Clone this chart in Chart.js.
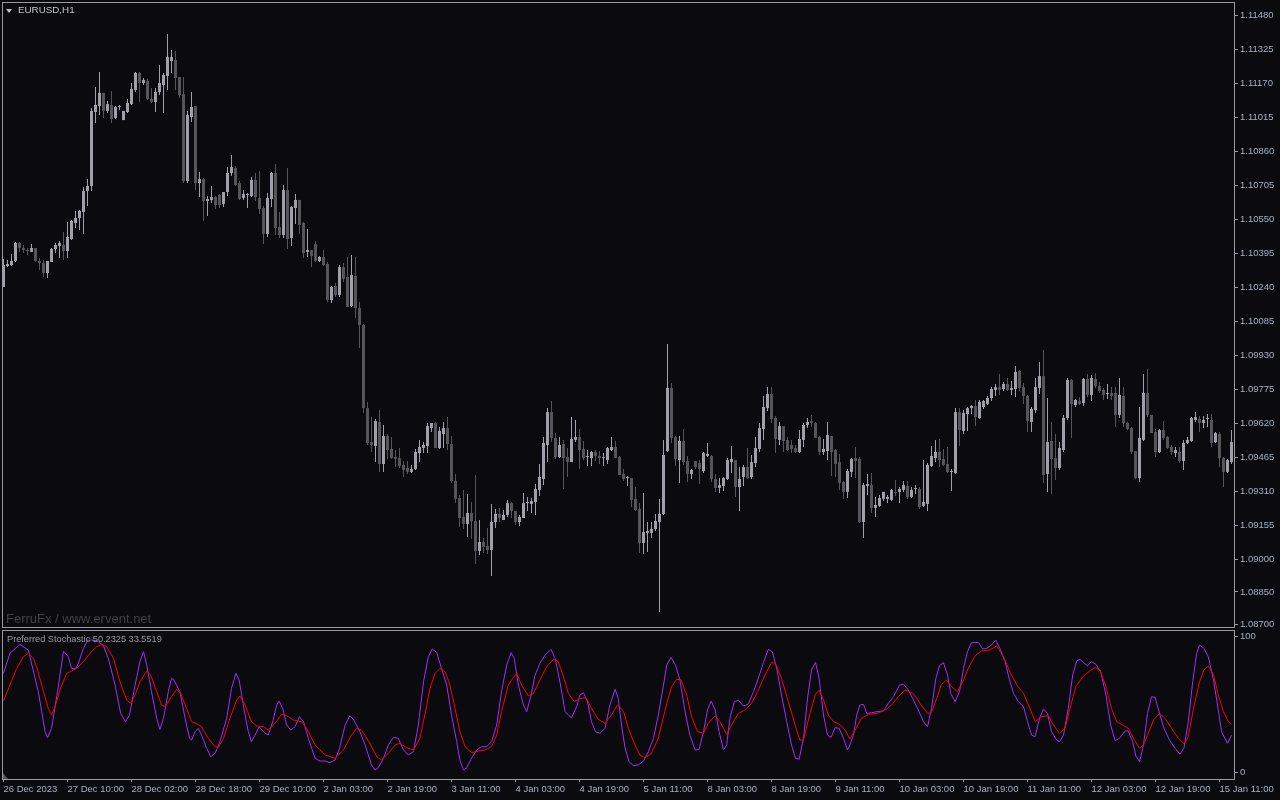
<!DOCTYPE html>
<html><head><meta charset="utf-8">
<script src="https://cdn.jsdelivr.net/npm/chart.js@4.4.1/dist/chart.umd.min.js"></script>
<style>
html,body{margin:0;padding:0;background:#0a0a0f;width:1280px;height:800px;overflow:hidden;}
#main{position:absolute;left:0;top:0;}
#sub{position:absolute;left:0;top:628px;}
.lbl{position:absolute;font-family:"Liberation Sans",Arial,sans-serif;white-space:nowrap;line-height:1;}
</style></head><body>
<canvas id="main" width="1280" height="628"></canvas>
<canvas id="sub" width="1280" height="172"></canvas>
<div style="position:absolute;left:6px;top:9px;width:0;height:0;border-left:3.5px solid transparent;border-right:3.5px solid transparent;border-top:4px solid #c0c4cc"></div>
<div class="lbl" style="left:18px;top:5px;font-size:9.8px;color:#c0c4cc">EURUSD,H1</div>
<div class="lbl" style="left:6px;top:612px;font-size:13px;color:#404048">FerruFx / www.ervent.net</div>
<div class="lbl" style="left:7px;top:635px;font-size:9.2px;color:#9c9ca4">Preferred Stochastic 50.2325 33.5519</div>
<div style="position:absolute;left:3px;top:773px;width:0;height:0;border-bottom:6px solid #55555c;border-right:5px solid transparent"></div>
<script>
const tickLabels = ["26 Dec 2023","27 Dec 10:00","28 Dec 02:00","28 Dec 18:00","29 Dec 10:00","2 Jan 03:00","2 Jan 19:00","3 Jan 11:00","4 Jan 03:00","4 Jan 19:00","5 Jan 11:00","8 Jan 03:00","8 Jan 19:00","9 Jan 11:00","10 Jan 03:00","10 Jan 19:00","11 Jan 11:00","12 Jan 03:00","12 Jan 19:00","15 Jan 11:00"];
const priceTicks = [1.08700,1.08850,1.09000,1.09155,1.09310,1.09465,1.09620,1.09775,1.09930,1.10085,1.10240,1.10395,1.10550,1.10705,1.10860,1.11015,1.11170,1.11325,1.11480];
const stochTicks = [0,100];

const open = [
1.10240,1.10336,1.10340,1.10359,1.10441,1.10418,1.10409,1.10400,1.10418,1.10359,1.10350,1.10304,1.10354,1.10413,1.10427,1.10432,
1.10404,1.10459,1.10532,1.10555,1.10582,1.10678,1.10701,1.11038,1.11065,1.11125,1.11043,1.11070,1.11011,1.11061,1.11001,1.11038,
1.11074,1.11138,1.11216,1.11170,1.11179,1.11097,1.11084,1.11129,1.11161,1.11202,1.11270,1.11275,1.11198,1.11120,1.10723,1.11015,
1.11065,1.10714,1.10732,1.10632,1.10637,1.10650,1.10660,1.10619,1.10673,1.10760,1.10783,1.10714,1.10646,1.10660,1.10655,1.10728,
1.10646,1.10600,1.10482,1.10641,1.10760,1.10514,1.10477,1.10682,1.10464,1.10600,1.10637,1.10532,1.10400,1.10409,1.10436,1.10359,
1.10377,1.10345,1.10181,1.10245,1.10204,1.10331,1.10286,1.10153,1.10290,1.10144,1.10067,1.09688,1.09533,1.09515,1.09625,1.09433,
1.09561,1.09502,1.09465,1.09460,1.09429,1.09415,1.09397,1.09410,1.09483,1.09506,1.09515,1.09597,1.09620,1.09506,1.09570,1.09597,
1.09524,1.09356,1.09278,1.09192,1.09160,1.09210,1.09173,1.09037,1.09078,1.09059,1.09041,1.09169,1.09205,1.09178,1.09201,1.09255,
1.09219,1.09169,1.09187,1.09255,1.09251,1.09260,1.09315,1.09365,1.09520,1.09670,1.09552,1.09465,1.09524,1.09465,1.09442,1.09543,
1.09556,1.09502,1.09465,1.09460,1.09488,1.09470,1.09460,1.09451,1.09497,1.09511,1.09465,1.09388,1.09369,1.09369,1.09274,1.09228,
1.09073,1.09119,1.09119,1.09137,1.09169,1.09205,1.09492,1.09780,1.09556,1.09451,1.09538,1.09447,1.09388,1.09447,1.09438,1.09401,
1.09470,1.09470,1.09365,1.09324,1.09333,1.09365,1.09442,1.09451,1.09328,1.09374,1.09419,1.09374,1.09438,1.09502,1.09593,1.09688,
1.09752,1.09643,1.09543,1.09606,1.09543,1.09520,1.09506,1.09488,1.09543,1.09611,1.09629,1.09620,1.09556,1.09488,1.09492,1.09561,
1.09497,1.09442,1.09351,1.09306,1.09397,1.09460,1.09456,1.09169,1.09333,1.09337,1.09233,1.09242,1.09274,1.09274,1.09269,1.09306,
1.09306,1.09315,1.09333,1.09283,1.09319,1.09319,1.09242,1.09251,1.09424,1.09460,1.09488,1.09456,1.09433,1.09397,1.09392,1.09670,
1.09584,1.09661,1.09688,1.09698,1.09643,1.09693,1.09707,1.09734,1.09771,1.09784,1.09775,1.09798,1.09771,1.09775,1.09857,1.09784,
1.09743,1.09625,1.09679,1.09780,1.09834,1.09388,1.09538,1.09460,1.09415,1.09497,1.09643,1.09816,1.09702,1.09720,1.09711,1.09821,
1.09748,1.09821,1.09789,1.09771,1.09752,1.09757,1.09757,1.09657,1.09743,1.09620,1.09597,1.09492,1.09369,1.09543,1.09757,1.09657,
1.09579,1.09488,1.09588,1.09556,1.09511,1.09483,1.09488,1.09447,1.09529,1.09538,1.09634,1.09638,1.09620,1.09638,1.09634,1.09533,
1.09570,1.09460,1.09397,1.09442];

const high = [
1.10368,1.10363,1.10390,1.10445,1.10445,1.10432,1.10418,1.10436,1.10418,1.10372,1.10363,1.10359,1.10418,1.10441,1.10450,1.10491,
1.10536,1.10546,1.10587,1.10591,1.10696,1.10732,1.11056,1.11152,1.11220,1.11125,1.11088,1.11134,1.11065,1.11070,1.11043,1.11097,
1.11170,1.11220,1.11220,1.11193,1.11188,1.11147,1.11147,1.11252,1.11216,1.11394,1.11321,1.11316,1.11198,1.11198,1.11043,1.11129,
1.11065,1.10764,1.10737,1.10655,1.10701,1.10655,1.10664,1.10673,1.10787,1.10842,1.10792,1.10723,1.10682,1.10669,1.10742,1.10760,
1.10769,1.10609,1.10669,1.10764,1.10801,1.10582,1.10705,1.10783,1.10609,1.10664,1.10637,1.10536,1.10504,1.10409,1.10450,1.10381,
1.10409,1.10354,1.10245,1.10258,1.10340,1.10350,1.10377,1.10386,1.10377,1.10172,1.10071,1.09716,1.09647,1.09638,1.09679,1.09611,
1.09570,1.09556,1.09497,1.09506,1.09447,1.09447,1.09429,1.09502,1.09543,1.09533,1.09620,1.09620,1.09625,1.09602,1.09625,1.09647,
1.09561,1.09388,1.09292,1.09315,1.09296,1.09260,1.09383,1.09178,1.09096,1.09141,1.09251,1.09228,1.09233,1.09223,1.09269,1.09260,
1.09219,1.09201,1.09301,1.09283,1.09278,1.09342,1.09433,1.09556,1.09688,1.09720,1.09574,1.09556,1.09543,1.09506,1.09647,1.09634,
1.09593,1.09538,1.09497,1.09492,1.09497,1.09492,1.09483,1.09511,1.09556,1.09538,1.09470,1.09410,1.09378,1.09369,1.09328,1.09255,
1.09301,1.09169,1.09169,1.09205,1.09274,1.09543,1.09980,1.09802,1.09561,1.09561,1.09593,1.09470,1.09410,1.09447,1.09451,1.09488,
1.09529,1.09474,1.09388,1.09369,1.09374,1.09460,1.09515,1.09451,1.09419,1.09429,1.09506,1.09474,1.09556,1.09620,1.09743,1.09784,
1.09784,1.09652,1.09625,1.09606,1.09556,1.09543,1.09520,1.09588,1.09620,1.09643,1.09657,1.09625,1.09561,1.09547,1.09625,1.09561,
1.09502,1.09479,1.09356,1.09410,1.09460,1.09511,1.09465,1.09347,1.09388,1.09392,1.09283,1.09292,1.09306,1.09292,1.09319,1.09360,
1.09328,1.09356,1.09356,1.09328,1.09337,1.09328,1.09451,1.09438,1.09515,1.09543,1.09547,1.09502,1.09511,1.09410,1.09688,1.09688,
1.09679,1.09693,1.09702,1.09725,1.09725,1.09725,1.09743,1.09784,1.09798,1.09843,1.09807,1.09825,1.09812,1.09880,1.09862,1.09802,
1.09748,1.09693,1.09825,1.09898,1.09953,1.09734,1.09625,1.09570,1.09533,1.09657,1.09825,1.09821,1.09730,1.09739,1.09825,1.09843,
1.09839,1.09848,1.09807,1.09780,1.09798,1.09784,1.09784,1.09825,1.09784,1.09625,1.09602,1.09492,1.09693,1.09843,1.09866,1.09657,
1.09593,1.09593,1.09629,1.09561,1.09520,1.09511,1.09511,1.09543,1.09556,1.09647,1.09670,1.09652,1.09652,1.09661,1.09661,1.09579,
1.09579,1.09465,1.09456,1.09588];

const low = [
1.10240,1.10331,1.10336,1.10354,1.10400,1.10395,1.10386,1.10400,1.10354,1.10318,1.10286,1.10281,1.10354,1.10395,1.10372,1.10363,
1.10372,1.10454,1.10509,1.10500,1.10482,1.10609,1.10678,1.10988,1.11024,1.11011,1.11033,1.10988,1.11006,1.11047,1.11001,1.11033,
1.11070,1.11129,1.11084,1.11161,1.11093,1.11079,1.11038,1.11115,1.11033,1.11138,1.11216,1.11138,1.11102,1.10714,1.10714,1.10992,
1.10682,1.10650,1.10541,1.10564,1.10623,1.10596,1.10600,1.10605,1.10655,1.10746,1.10701,1.10637,1.10637,1.10600,1.10650,1.10632,
1.10573,1.10436,1.10468,1.10605,1.10477,1.10464,1.10464,1.10413,1.10427,1.10527,1.10482,1.10372,1.10377,1.10331,1.10354,1.10354,
1.10336,1.10172,1.10167,1.10195,1.10195,1.10263,1.10149,1.10149,1.10099,1.09962,1.09666,1.09520,1.09488,1.09442,1.09397,1.09397,
1.09456,1.09456,1.09419,1.09415,1.09374,1.09388,1.09392,1.09406,1.09442,1.09483,1.09483,1.09579,1.09506,1.09502,1.09506,1.09497,
1.09347,1.09255,1.09146,1.09137,1.09100,1.09091,1.08977,1.09018,1.09027,1.09023,1.08923,1.09141,1.09169,1.09178,1.09192,1.09187,
1.09155,1.09151,1.09187,1.09219,1.09210,1.09201,1.09287,1.09337,1.09442,1.09533,1.09456,1.09460,1.09319,1.09374,1.09442,1.09533,
1.09410,1.09451,1.09424,1.09424,1.09447,1.09433,1.09424,1.09433,1.09492,1.09460,1.09383,1.09356,1.09333,1.09237,1.09219,1.09027,
1.09023,1.09032,1.09096,1.09128,1.08758,1.09201,1.09488,1.09529,1.09424,1.09347,1.09429,1.09351,1.09365,1.09410,1.09342,1.09392,
1.09465,1.09351,1.09306,1.09301,1.09310,1.09360,1.09392,1.09283,1.09219,1.09333,1.09365,1.09365,1.09419,1.09488,1.09543,1.09675,
1.09620,1.09483,1.09520,1.09488,1.09492,1.09483,1.09483,1.09483,1.09511,1.09597,1.09602,1.09552,1.09474,1.09474,1.09451,1.09378,
1.09374,1.09315,1.09274,1.09278,1.09374,1.09369,1.09164,1.09096,1.09292,1.09210,1.09192,1.09237,1.09264,1.09255,1.09264,1.09287,
1.09255,1.09306,1.09274,1.09278,1.09296,1.09228,1.09237,1.09219,1.09419,1.09442,1.09419,1.09424,1.09392,1.09310,1.09388,1.09515,
1.09570,1.09584,1.09661,1.09606,1.09638,1.09684,1.09702,1.09720,1.09743,1.09748,1.09766,1.09766,1.09748,1.09739,1.09766,1.09707,
1.09579,1.09579,1.09666,1.09752,1.09347,1.09306,1.09296,1.09360,1.09406,1.09488,1.09634,1.09552,1.09693,1.09702,1.09698,1.09739,
1.09720,1.09780,1.09757,1.09725,1.09730,1.09725,1.09602,1.09643,1.09602,1.09588,1.09479,1.09365,1.09351,1.09538,1.09647,1.09574,
1.09465,1.09483,1.09543,1.09502,1.09474,1.09465,1.09438,1.09406,1.09524,1.09533,1.09625,1.09579,1.09597,1.09602,1.09511,1.09529,
1.09419,1.09328,1.09392,1.09433];

const close = [
1.10340,1.10345,1.10359,1.10441,1.10418,1.10409,1.10404,1.10418,1.10359,1.10350,1.10304,1.10359,1.10413,1.10432,1.10441,1.10404,
1.10468,1.10541,1.10555,1.10587,1.10678,1.10701,1.11043,1.11070,1.11125,1.11043,1.11074,1.11006,1.11061,1.11061,1.11043,1.11079,
1.11143,1.11216,1.11170,1.11184,1.11097,1.11084,1.11129,1.11170,1.11207,1.11289,1.11289,1.11193,1.11115,1.10723,1.11024,1.11061,
1.10714,1.10732,1.10632,1.10641,1.10650,1.10614,1.10614,1.10673,1.10760,1.10787,1.10705,1.10641,1.10664,1.10660,1.10728,1.10650,
1.10596,1.10482,1.10646,1.10760,1.10509,1.10477,1.10682,1.10459,1.10605,1.10637,1.10523,1.10395,1.10409,1.10381,1.10359,1.10377,
1.10340,1.10181,1.10240,1.10204,1.10331,1.10277,1.10149,1.10295,1.10144,1.10067,1.09688,1.09529,1.09520,1.09629,1.09433,1.09561,
1.09497,1.09460,1.09456,1.09424,1.09406,1.09397,1.09410,1.09488,1.09511,1.09520,1.09606,1.09620,1.09506,1.09584,1.09597,1.09524,
1.09356,1.09274,1.09187,1.09160,1.09210,1.09173,1.09037,1.09078,1.09055,1.09041,1.09169,1.09205,1.09187,1.09201,1.09255,1.09219,
1.09169,1.09192,1.09255,1.09255,1.09264,1.09319,1.09374,1.09529,1.09670,1.09552,1.09465,1.09520,1.09460,1.09442,1.09547,1.09556,
1.09497,1.09460,1.09465,1.09488,1.09470,1.09460,1.09460,1.09506,1.09511,1.09460,1.09383,1.09365,1.09369,1.09269,1.09223,1.09073,
1.09123,1.09128,1.09137,1.09173,1.09205,1.09474,1.09780,1.09552,1.09456,1.09538,1.09442,1.09388,1.09406,1.09419,1.09410,1.09483,
1.09479,1.09365,1.09324,1.09337,1.09369,1.09451,1.09456,1.09328,1.09365,1.09419,1.09369,1.09442,1.09506,1.09597,1.09693,1.09752,
1.09638,1.09547,1.09606,1.09538,1.09497,1.09502,1.09488,1.09547,1.09611,1.09625,1.09620,1.09552,1.09488,1.09502,1.09565,1.09488,
1.09433,1.09347,1.09306,1.09401,1.09456,1.09447,1.09169,1.09337,1.09342,1.09233,1.09246,1.09278,1.09306,1.09283,1.09315,1.09301,
1.09319,1.09337,1.09283,1.09315,1.09319,1.09237,1.09260,1.09429,1.09470,1.09488,1.09451,1.09429,1.09397,1.09397,1.09670,1.09588,
1.09666,1.09688,1.09698,1.09647,1.09716,1.09720,1.09734,1.09775,1.09784,1.09771,1.09798,1.09771,1.09780,1.09853,1.09780,1.09743,
1.09629,1.09684,1.09784,1.09834,1.09383,1.09533,1.09456,1.09415,1.09506,1.09643,1.09816,1.09707,1.09725,1.09707,1.09821,1.09748,
1.09825,1.09789,1.09766,1.09748,1.09752,1.09743,1.09657,1.09748,1.09620,1.09593,1.09488,1.09369,1.09552,1.09757,1.09657,1.09574,
1.09488,1.09588,1.09552,1.09506,1.09488,1.09497,1.09447,1.09529,1.09543,1.09643,1.09647,1.09620,1.09634,1.09638,1.09529,1.09574,
1.09460,1.09397,1.09451,1.09533];

// [bar index, value]
const stochK = [[0,72.9],[1.6,87.7],[4.1,94.3],[6.2,90.1],[8.7,59.4],[10.4,29.9],[11,25.4],[12,32.3],[13.5,59.4],[15,89.4],[16.2,85.2],[17,76.6],[18.1,76.6],[18.7,80.3],[20,91.4],[21,97.5],[22,97.5],[23.3,97],[24.9,93.8],[26.2,84],[27.9,64.3],[29.3,43.3],[30.5,37.2],[31.5,42.1],[32.9,64.3],[34.1,81.5],[35,88.9],[35.8,79.1],[37,59.4],[38.3,39.7],[39.1,31.5],[40,39.7],[41.2,59.4],[42,69.2],[42.6,68],[44.1,59.4],[45.4,39.7],[46.5,24.9],[47,23.6],[47.9,29.8],[48.7,32.3],[49.5,27.3],[50.8,17.5],[51.8,11.3],[52.9,13.8],[54.1,22.4],[55.8,39.7],[57,61.8],[58.1,72.9],[58.9,68],[60.1,47],[61.2,29.8],[62,22.4],[62.9,27.3],[63.9,33.5],[65.4,28.6],[66.2,27.3],[67.3,37.2],[68.3,49.5],[68.9,52.5],[69.8,47],[70.8,34.7],[71.8,31],[72.9,33.5],[74,40.9],[75,37.2],[76.2,24.9],[77.9,10.1],[79.1,8.1],[80.4,8.1],[81.6,6.9],[82.9,8.9],[84,17.5],[85.4,34.7],[86.6,41.6],[87.6,38.4],[89.1,29.8],[90.4,20],[92,5.2],[92.9,1.5],[93.7,3.2],[95,10.1],[96.2,20],[97.5,25.6],[98.7,24.9],[100,16.3],[101.2,12.6],[102.5,15],[103.7,34.7],[105,66.7],[106.2,85.2],[107.2,90.9],[108.3,88.4],[109.5,76.6],[110.8,64.3],[112,42.1],[113.3,22.4],[114.1,8.9],[115,1.5],[115.8,3.2],[117,10.1],[118.3,16.3],[119.5,18.7],[120.8,18.7],[122,22.4],[123.3,34.7],[124.5,59.4],[125.8,79.1],[126.9,88.2],[127.7,84],[128.7,64.3],[130,49.5],[130.8,44.6],[131.9,56.9],[132.9,71.7],[134.1,80.3],[135.4,86.5],[136.9,90.6],[137.9,84],[139.1,66.7],[140.4,44.6],[141.2,42.1],[142,40.1],[143.3,48.3],[144.1,56.9],[145,58.6],[146,52],[147,37.2],[148,29.8],[149.1,28.6],[150.4,32.3],[151.6,49.5],[152.9,61.1],[153.7,54.4],[154.5,34.7],[155.4,17.5],[156.4,7.6],[157.5,4.7],[158.7,5.2],[160,8.1],[161.2,15],[162.5,24.9],[163.7,42.1],[165,64.3],[165.8,79.1],[166.9,84.7],[168,79.1],[169.1,68],[170.4,44.6],[171.6,27.3],[172.9,16.3],[173.9,16.7],[175,29.8],[176,45.8],[176.9,52.5],[177.9,45.8],[178.9,29.8],[180,16.3],[180.8,20],[181.6,39.7],[182.7,52],[183.7,53],[185,48.8],[186.2,50.2],[187.5,59.4],[188.7,69.2],[190,81],[191.2,90.6],[192.2,88.9],[193.3,76.6],[194.5,56.9],[195.8,37.2],[197,20],[198,10.1],[198.9,9.4],[200,24.9],[201,54.4],[202,75.4],[203,81],[203.9,69.2],[205,42.1],[206,27.3],[206.9,25.6],[207.9,32.8],[208.9,32.3],[210,24.9],[211,16.3],[211.6,20],[212.5,27.3],[213.3,42.1],[214.1,49.5],[215,50],[215.8,43.3],[217,43.8],[218.3,44.6],[220,45.1],[221.2,50.7],[222.5,55.7],[224,64.3],[225,64.8],[226.2,60.6],[227.5,53.2],[228.7,45.8],[230,37.2],[231,33.5],[232,47],[233.1,69.2],[234,78.6],[235,80.8],[236,71.7],[236.8,58.1],[237.9,52],[239,59.4],[240,76.6],[241,88.9],[242,95.6],[243.7,95.8],[244.8,90.9],[245.8,91.4],[247,93.8],[248,97.5],[249.1,91.4],[250.4,81.5],[251.5,68],[252.5,58.1],[253.7,52],[255,48.3],[256,37.2],[257,27.3],[257.9,26.1],[259,39.7],[260,46.6],[261,43.3],[262,29.8],[263.3,23.6],[264,22.4],[265,27.3],[266.2,47],[267.3,71.7],[268.3,82],[269.1,83.3],[270,80.8],[271,78.6],[272,81.5],[273.1,79.6],[274.3,74.1],[275.6,56.9],[276.8,34.7],[277.9,23.2],[279,24.9],[280.4,30.3],[281.2,30.3],[282.3,22.4],[283.1,11.8],[284,7.6],[285,20],[286,43.3],[287,55.7],[287.9,55.2],[289,43.3],[290.1,32.3],[291.5,23.6],[292.9,17.5],[294.1,13.3],[295.1,17.5],[296.2,37.2],[297.3,66.7],[298.3,87.7],[299,93.8],[300.1,91.4],[301.2,85.2],[302.5,68],[303.5,49.5],[304.5,29.8],[306,21.2],[307,27.3]];

const stochD = [[0,52.5],[1.6,64.3],[3.3,76.6],[5,85.2],[6.2,87.7],[7.5,84],[8.5,75.4],[10,59.4],[11.2,47],[12,42.1],[12.9,48.3],[14.1,60.6],[15.8,72.9],[17.5,75.4],[18.3,76.6],[20,81.5],[21.6,87.7],[23.3,92.6],[24.5,94.3],[25.8,92.6],[27.5,84],[29.1,66.7],[30.8,53.2],[31.8,50.7],[32.9,56.9],[34.1,66.7],[35.8,74.6],[36.8,71.7],[38.3,59.4],[39.5,49.5],[40.4,48.3],[42,55.7],[43.3,61.1],[44.3,58.1],[45.8,47],[47,37.2],[48.7,35.2],[49.5,33.5],[51.2,24.9],[52.9,18.7],[53.7,18.2],[55,24.9],[56.6,39.7],[58.3,53.2],[59.1,56.2],[60.4,49.5],[62,37.2],[63.3,34],[65,33.5],[66.2,31],[67.9,36],[69.5,42.6],[70.8,41.6],[72.5,38.4],[74.5,37.2],[75.8,32.3],[77.9,20],[80.4,12.6],[82.9,10.1],[85,16.3],[87,27.3],[88.3,32.3],[89.5,31],[91.6,21.2],[93.3,11.3],[94.5,8.9],[96.2,13.8],[97.9,20],[99.1,21.2],[100.8,18],[102.5,16.3],[104.1,24.9],[105.4,43.3],[106.6,61.8],[107.9,72.9],[109.1,76.6],[110.4,74.1],[111.6,64.3],[112.9,47],[114.1,29.8],[115.4,18.7],[117,14.3],[118.7,15.5],[120.4,16.3],[122,18.7],[123.3,27.3],[124.5,44.6],[126.2,64.3],[127.3,69.2],[128.3,72.9],[129.5,64.3],[131.2,56.2],[132.5,58.1],[134.1,68],[135.8,77.8],[137.5,83.3],[138.7,81.5],[140,70.4],[141.2,58.1],[142.7,52],[144.1,54.4],[145.6,54.9],[147,47],[148.7,38.9],[150.4,36],[152,42.1],[153.5,49.5],[155,45.1],[156.2,32.3],[157.5,22.4],[159.1,12.6],[160.4,10.6],[162,13.8],[163.7,24.9],[165.4,45.8],[167,63.1],[168.3,68.5],[169.4,68],[170.8,56.9],[172,40.9],[173.5,29.8],[175,28.6],[176.2,36],[177.9,41.6],[179.1,37.2],[180.8,27.8],[182,34.7],[183.7,43.3],[185.4,45.8],[187,50.7],[188.7,60.6],[190.4,71.7],[192,80.8],[193,80.3],[194.5,69.2],[196.2,52],[197.9,34.7],[199.1,23.6],[200,23.6],[201.2,38.4],[202.9,56.9],[203.9,60.6],[205,53.2],[206.2,42.1],[207.5,37.2],[209.1,35.2],[210.4,31],[211.6,24.4],[212.9,31],[214.5,39.7],[216.2,42.6],[218.3,43.3],[220.4,45.8],[222,49.5],[223.7,55.7],[225.4,60.6],[227.5,58.1],[229.1,50.7],[231,43.3],[232,44.1],[233.3,54.4],[234.5,64.8],[235.8,68],[237,63.1],[238.5,59.4],[240,68],[241.2,76.6],[242.9,86],[244.5,89.4],[246.5,90.1],[248.3,93.1],[250,85.2],[251.6,74.1],[253.3,64.3],[255,58.1],[256.6,47],[257.9,37.2],[259.5,40.9],[261.2,41.6],[262.5,34.7],[264,28.6],[265.4,32.3],[266.6,47],[268.1,63.1],[269.8,70.4],[271.5,74.6],[272.9,77.3],[274.1,75.4],[275.6,63.1],[277,47],[278.3,37.2],[279.8,34.7],[281.2,32.3],[282.5,24.9],[284,17.5],[285,20],[286.2,28.6],[287.5,38.4],[289,43.3],[290.4,39.7],[292,32.3],[293.7,24.9],[295.1,20.7],[296.2,26.1],[297.5,47],[299,66.7],[300.1,75.4],[301.2,78.3],[302.5,71.7],[303.7,56.9],[305,44.6],[306.2,37.2],[307,35.5]];

const BULL = '#a0a0aa', BEAR = '#55555b';
const FRAME = '#9a9aa0';
const TXT = '#a8b0c0';
const AXFONT = {family: '"Liberation Sans", Arial, sans-serif', size: 9.5};
const X_MIN = -0.375, X_MAX = 307.625;

const idx = open.map((_, i) => i);
const wickData = idx.map(i => ({x: i, y: [low[i], high[i]]}));
const bodyData = idx.map(i => ({x: i, y: [Math.min(open[i], close[i]), Math.max(open[i], close[i])]}));
const colorOf = ctx => (close[ctx.dataIndex] >= open[ctx.dataIndex] ? BULL : BEAR);

const framePlugin = {
  id: 'frame',
  afterDraw(chart) {
    const a = chart.chartArea, c = chart.ctx;
    c.save();
    c.strokeStyle = FRAME; c.lineWidth = 1;
    c.strokeRect(Math.round(a.left) + 0.5, Math.round(a.top) + 0.5, Math.round(a.right - a.left), Math.round(a.bottom - a.top));
    c.restore();
  }
};

new Chart(document.getElementById('main'), {
  type: 'bar',
  data: {datasets: [
    {data: wickData, barThickness: 1, grouped: false, backgroundColor: colorOf, borderWidth: 0, inflateAmount: 0},
    {data: bodyData, barThickness: 3, grouped: false, backgroundColor: colorOf, borderWidth: 0, inflateAmount: 0, minBarLength: 1}
  ]},
  options: {
    responsive: false, devicePixelRatio: 1, animation: false,
    layout: {padding: {left: 2, top: 2, right: 0, bottom: 1}},
    plugins: {legend: {display: false}, tooltip: {enabled: false}},
    scales: {
      x: {type: 'linear', min: X_MIN, max: X_MAX, offset: false, display: false, grid: {offset: false},
          afterFit: ax => { ax.height = 0; ax.paddingLeft = 0; ax.paddingRight = 0; }},
      y: {type: 'linear', position: 'right', min: 1.086901, max: 1.115394, bounds: 'data',
          afterBuildTicks: ax => { ax.ticks = priceTicks.map(v => ({value: v})); },
          afterFit: ax => { ax.width = 46; ax.paddingTop = 0; ax.paddingBottom = 0; },
          ticks: {autoSkip: false, padding: 2, color: TXT, font: AXFONT, callback: v => Number(v).toFixed(5)},
          grid: {drawOnChartArea: false, drawTicks: true, tickLength: 4, tickColor: FRAME},
          border: {display: true, color: FRAME}}
    }
  },
  plugins: [framePlugin]
});

new Chart(document.getElementById('sub'), {
  type: 'line',
  data: {datasets: [
    {data: stochD.map(p => ({x: p[0], y: p[1]})), borderColor: '#ff0000', borderWidth: 1, pointRadius: 0, tension: 0, fill: false},
    {data: stochK.map(p => ({x: p[0], y: p[1]})), borderColor: '#9a32f5', borderWidth: 1, pointRadius: 0, tension: 0, fill: false}
  ]},
  options: {
    responsive: false, devicePixelRatio: 1, animation: false,
    layout: {padding: {left: 2, top: 2, right: 0, bottom: 0}},
    plugins: {legend: {display: false}, tooltip: {enabled: false}},
    scales: {
      x: {type: 'linear', min: X_MIN, max: X_MAX, offset: false, bounds: 'data',
          afterBuildTicks: ax => { ax.ticks = tickLabels.map((_, k) => ({value: k * 16})); },
          afterFit: ax => { ax.height = 21; ax.paddingLeft = 0; ax.paddingRight = 0; },
          ticks: {autoSkip: false, maxRotation: 0, minRotation: 0, align: 'start', padding: 2, color: TXT, font: AXFONT,
                  callback: (v, i) => tickLabels[i]},
          grid: {drawOnChartArea: false, drawTicks: true, tickLength: 3, tickColor: FRAME, offset: false},
          border: {display: true, color: FRAME}},
      y: {type: 'linear', position: 'right', min: -5.17, max: 104.95, bounds: 'data',
          afterBuildTicks: ax => { ax.ticks = stochTicks.map(v => ({value: v})); },
          afterFit: ax => { ax.width = 46; ax.paddingTop = 0; ax.paddingBottom = 0; },
          ticks: {autoSkip: false, padding: 2, color: TXT, font: AXFONT, callback: v => String(v)},
          grid: {drawOnChartArea: false, drawTicks: true, tickLength: 4, tickColor: FRAME},
          border: {display: true, color: FRAME}}
    }
  },
  plugins: [framePlugin]
});
</script>
</body></html>
